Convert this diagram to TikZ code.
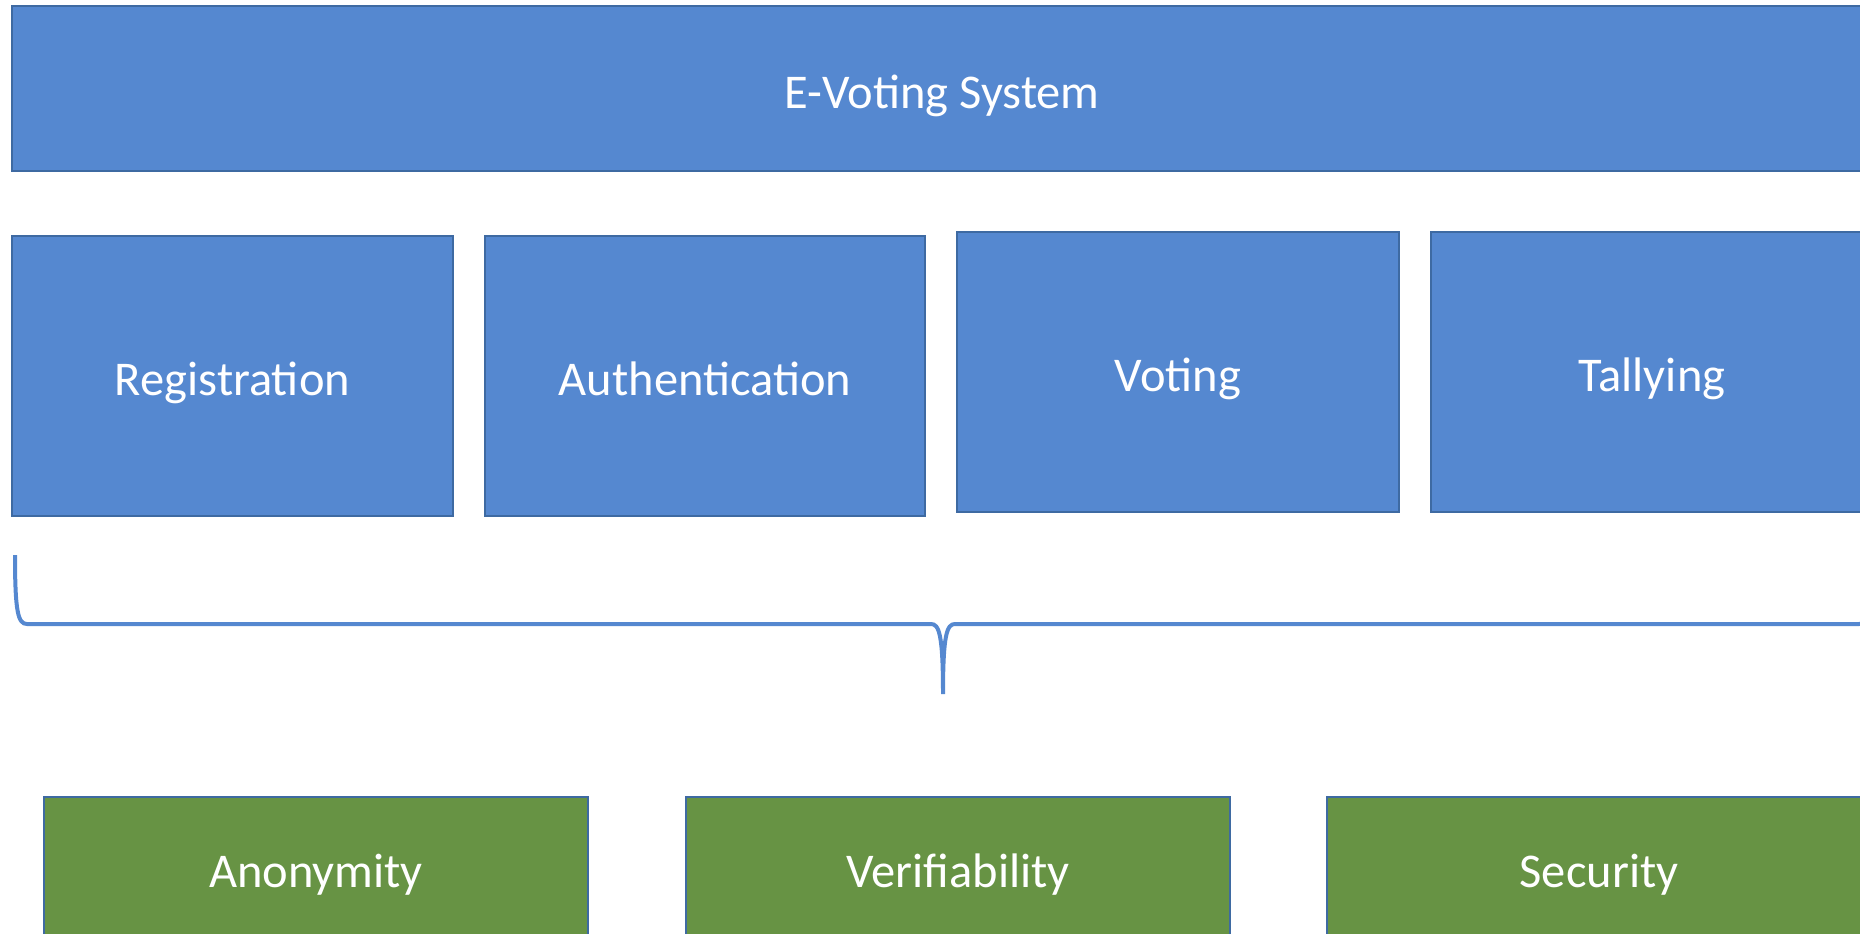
\documentclass[tikz,border=0pt]{standalone}
\usepackage{fontspec}
\setmainfont{Carlito}
\definecolor{boxblue}{RGB}{85,136,208}
\definecolor{boxgreen}{RGB}{103,147,68}
\definecolor{edgeblue}{RGB}{62,106,162}
\definecolor{bracecol}{RGB}{85,136,208}
\tikzset{
  basebox/.style={draw=edgeblue, line width=2pt, inner sep=0pt, text=white,
    font=\fontsize{48.5}{58}\selectfont, text height=39pt, text depth=0pt},
  bluebox/.style={basebox, fill=boxblue},
  greenbox/.style={basebox, fill=boxgreen},
  bracestyle/.style={draw=bracecol, line width=4pt, line cap=butt}
}
\begin{document}
\begin{tikzpicture}[x=1pt,y=-1pt]
\useasboundingbox (0,0) rectangle (1860,934);
\fill[white] (0,0) rectangle (1860,934);
\clip (0,0) rectangle (1860,934);
\node[bluebox, minimum width=1860pt, minimum height=165pt] (sys) at (942,88.5) {E-Voting System};
\node[bluebox, minimum width=441pt, minimum height=280pt] (reg) at (232.5,376) {Registration};
\node[bluebox, minimum width=440pt, minimum height=280pt] (auth) at (705,376) {Authentication};
\node[bluebox, minimum width=442pt, minimum height=280pt] (vote) at (1178,372) {Voting};
\node[bluebox, minimum width=442pt, minimum height=280pt] (tally) at (1652,372) {Tallying};
\node[greenbox, minimum width=544pt, minimum height=142pt] (anon) at (316,868) {Anonymity};
\node[greenbox, minimum width=544pt, minimum height=142pt] (verif) at (958,868) {Verifiability};
\node[greenbox, minimum width=544pt, minimum height=142pt] (sec) at (1599,868) {Security};
\coordinate (bl) at (15,555);
\coordinate (br) at (1871,555);
\coordinate (btip) at (943,694);
\draw[bracestyle] (bl) .. controls (15,612) and (18,624) .. (27,624)
  -- (931,624) .. controls (939,624) and (943,634) .. (btip)
  .. controls (943,634) and (947,624) .. (955,624)
  -- (1859,624) .. controls (1868,624) and (1871,612) .. (br);
\end{tikzpicture}
\end{document}
